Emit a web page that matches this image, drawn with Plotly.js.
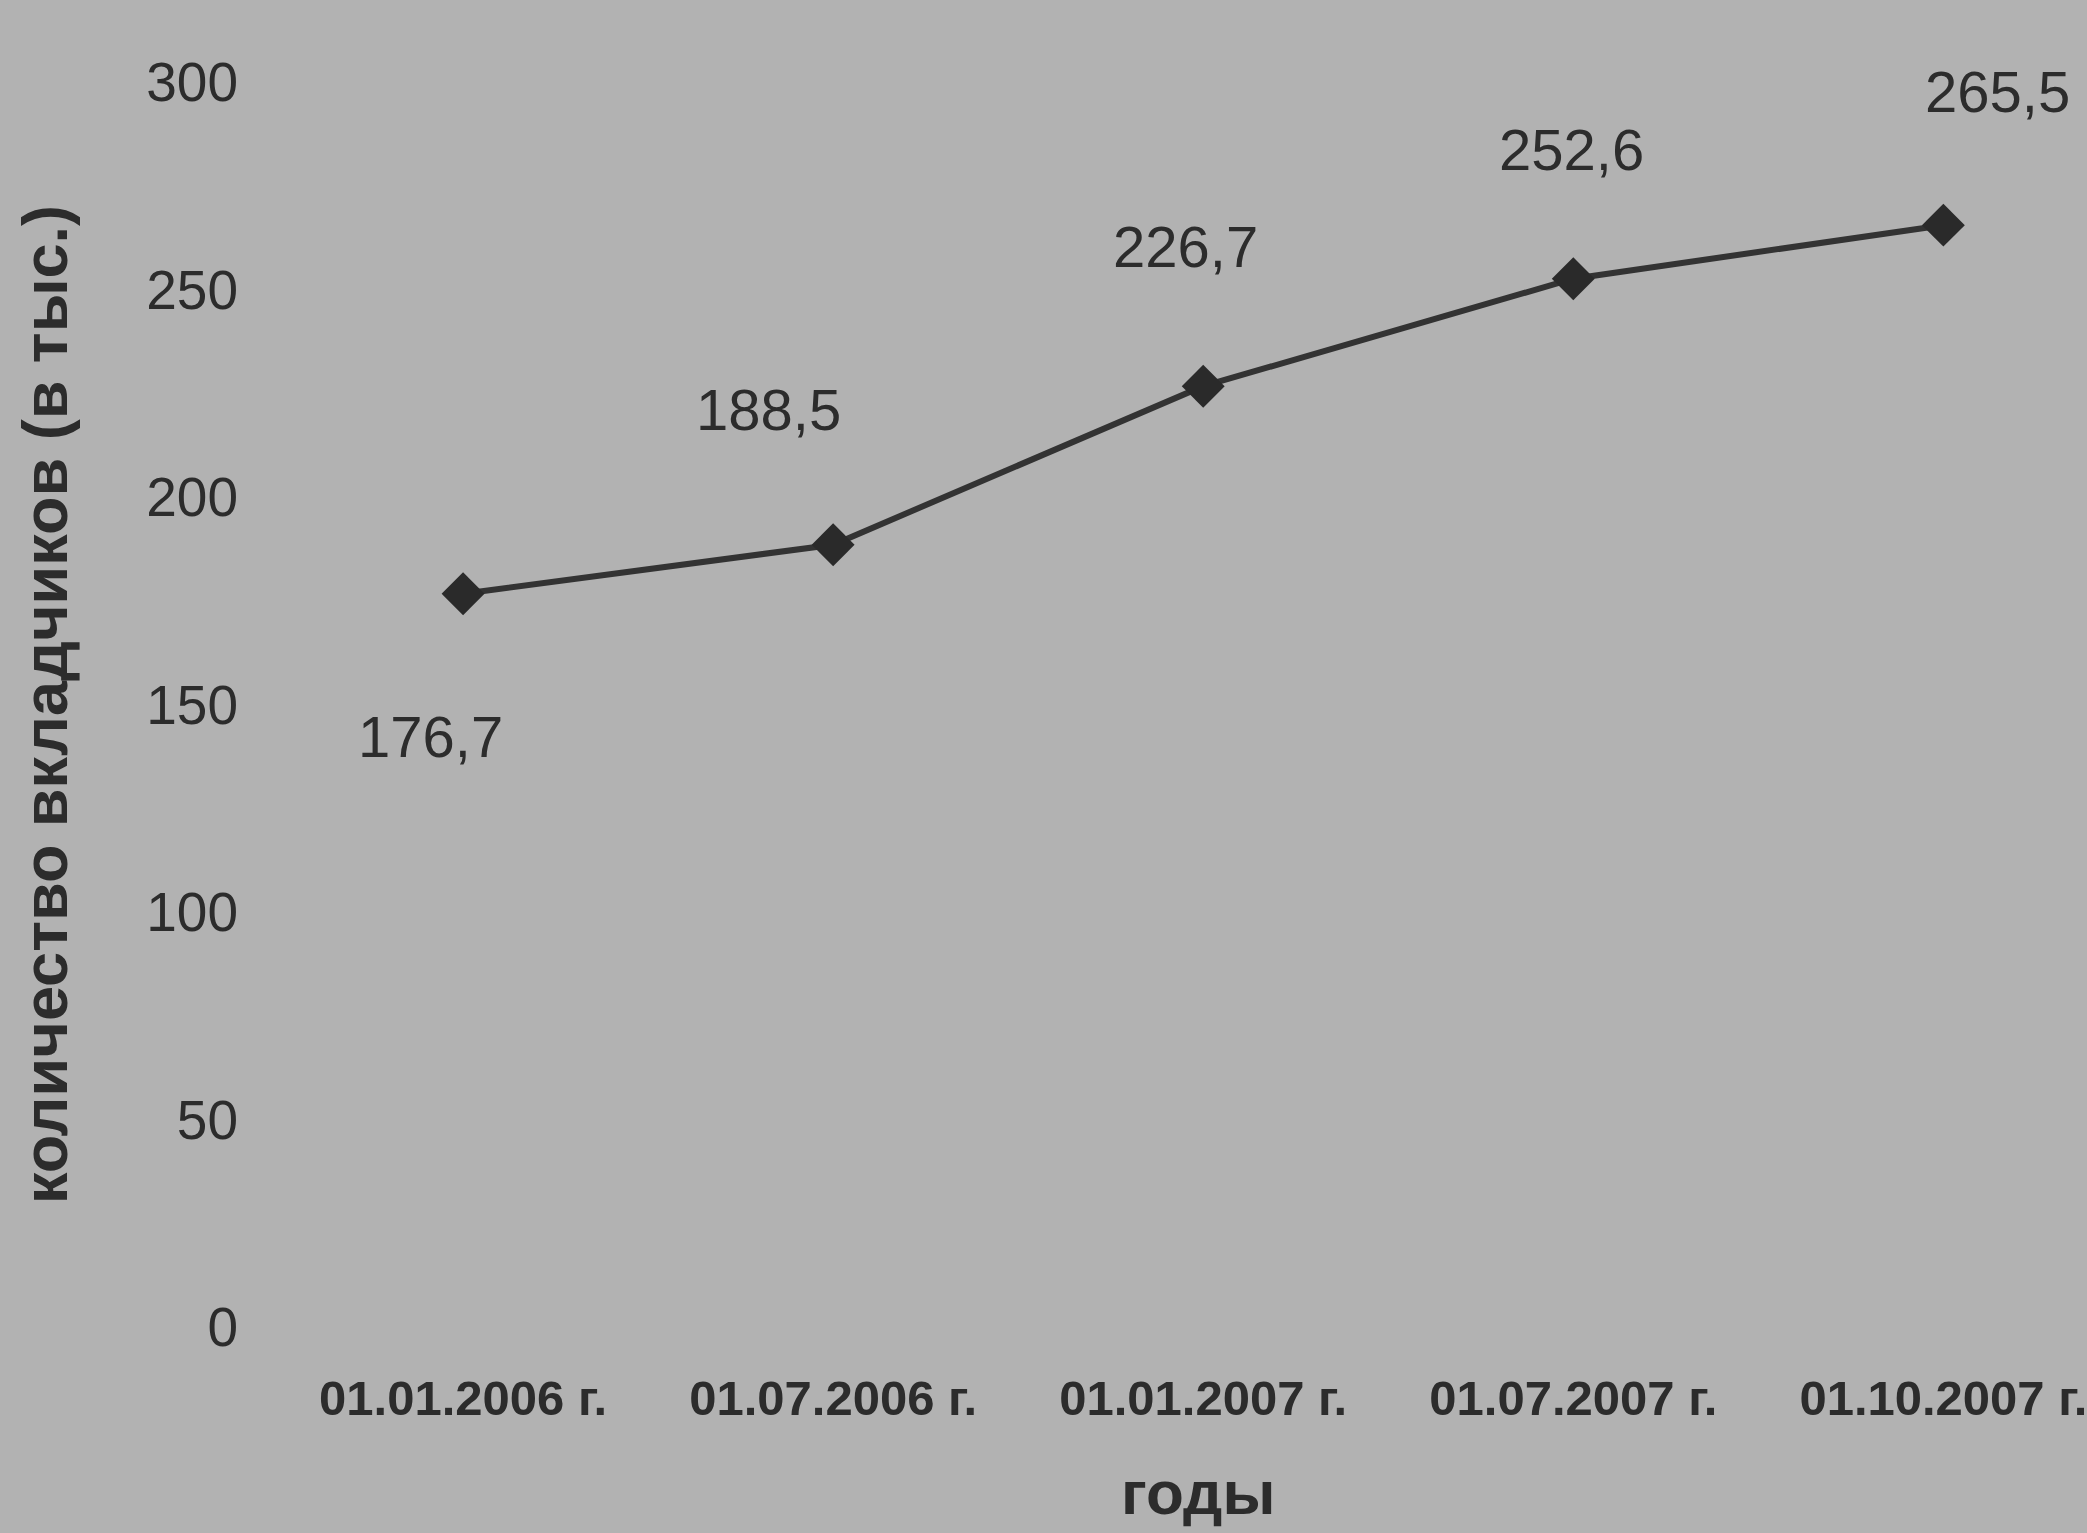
<!DOCTYPE html>
<html>
<head>
<meta charset="utf-8">
<script src="https://cdn.plot.ly/plotly-3.0.1.min.js"></script>
<style>
html,body{margin:0;padding:0;background:#b2b2b2;}
#chart{width:2087px;height:1533px;}
</style>
</head>
<body>
<div id="chart"></div>
<script>
// Data
const dates = ["01.01.2006 г.", "01.07.2006 г.", "01.01.2007 г.", "01.07.2007 г.", "01.10.2007 г."];
const depositors = [176.7, 188.5, 226.7, 252.6, 265.5];
const valueLabels = ["176,7", "188,5", "226,7", "252,6", "265,5"];
const yTicks = [0, 50, 100, 150, 200, 250, 300];
const yTitle = 'количество вкладчиков (в тыс.)';
const xTitle = 'годы';

const FONT = '"Liberation Sans", Arial, sans-serif';
const INK = '#2c2c2c';
const BG = '#b2b2b2';

const xIdx = dates.map((d, i) => i);

// label offsets (pixels) relative to each point
const labelShift = [[-33, -143], [-65, 135], [-18, 140], [-2, 129], [54, 134]];

const annotations = depositors.map((v, i) => ({
  x: xIdx[i], y: v, xref: 'x', yref: 'y',
  text: valueLabels[i], showarrow: false,
  xshift: labelShift[i][0], yshift: labelShift[i][1],
  font: {family: FONT, size: 58, color: INK}
}));

annotations.push({
  xref: 'paper', yref: 'paper', x: 0.519, y: -0.133,
  xanchor: 'center', yanchor: 'middle', showarrow: false,
  text: xTitle, font: {family: FONT, size: 62, color: INK, weight: 'bold'}
});

const trace = {
  x: xIdx, y: depositors, type: 'scatter', mode: 'lines+markers',
  line: {color: '#333333', width: 6},
  marker: {symbol: 'diamond', size: 33, color: '#2a2a2a'},
  hoverinfo: 'skip', cliponaxis: false
};

const layout = {
  width: 2087, height: 1533,
  margin: {l: 241, r: 3, t: 82, b: 206},
  paper_bgcolor: BG, plot_bgcolor: BG,
  showlegend: false,
  font: {family: FONT, color: INK},
  xaxis: {
    range: [-0.6, 4.38], tickmode: 'array', tickvals: xIdx, ticktext: dates,
    showgrid: false, zeroline: false, showline: false, ticks: '',
    ticklabelstandoff: 38, ticklabeloverflow: 'allow',
    tickfont: {family: FONT, size: 49, color: INK, weight: 'bold'}
  },
  yaxis: {
    range: [0, 300], tickmode: 'array', tickvals: yTicks,
    showgrid: false, zeroline: false, showline: false, ticks: '',
    ticklabelstandoff: 2,
    tickfont: {family: FONT, size: 55, color: INK},
    title: {text: yTitle, standoff: 58, font: {family: FONT, size: 63, color: INK, weight: 'bold'}}
  },
  annotations: annotations
};

Plotly.newPlot('chart', [trace], layout, {displayModeBar: false, staticPlot: true});
</script>
</body>
</html>
